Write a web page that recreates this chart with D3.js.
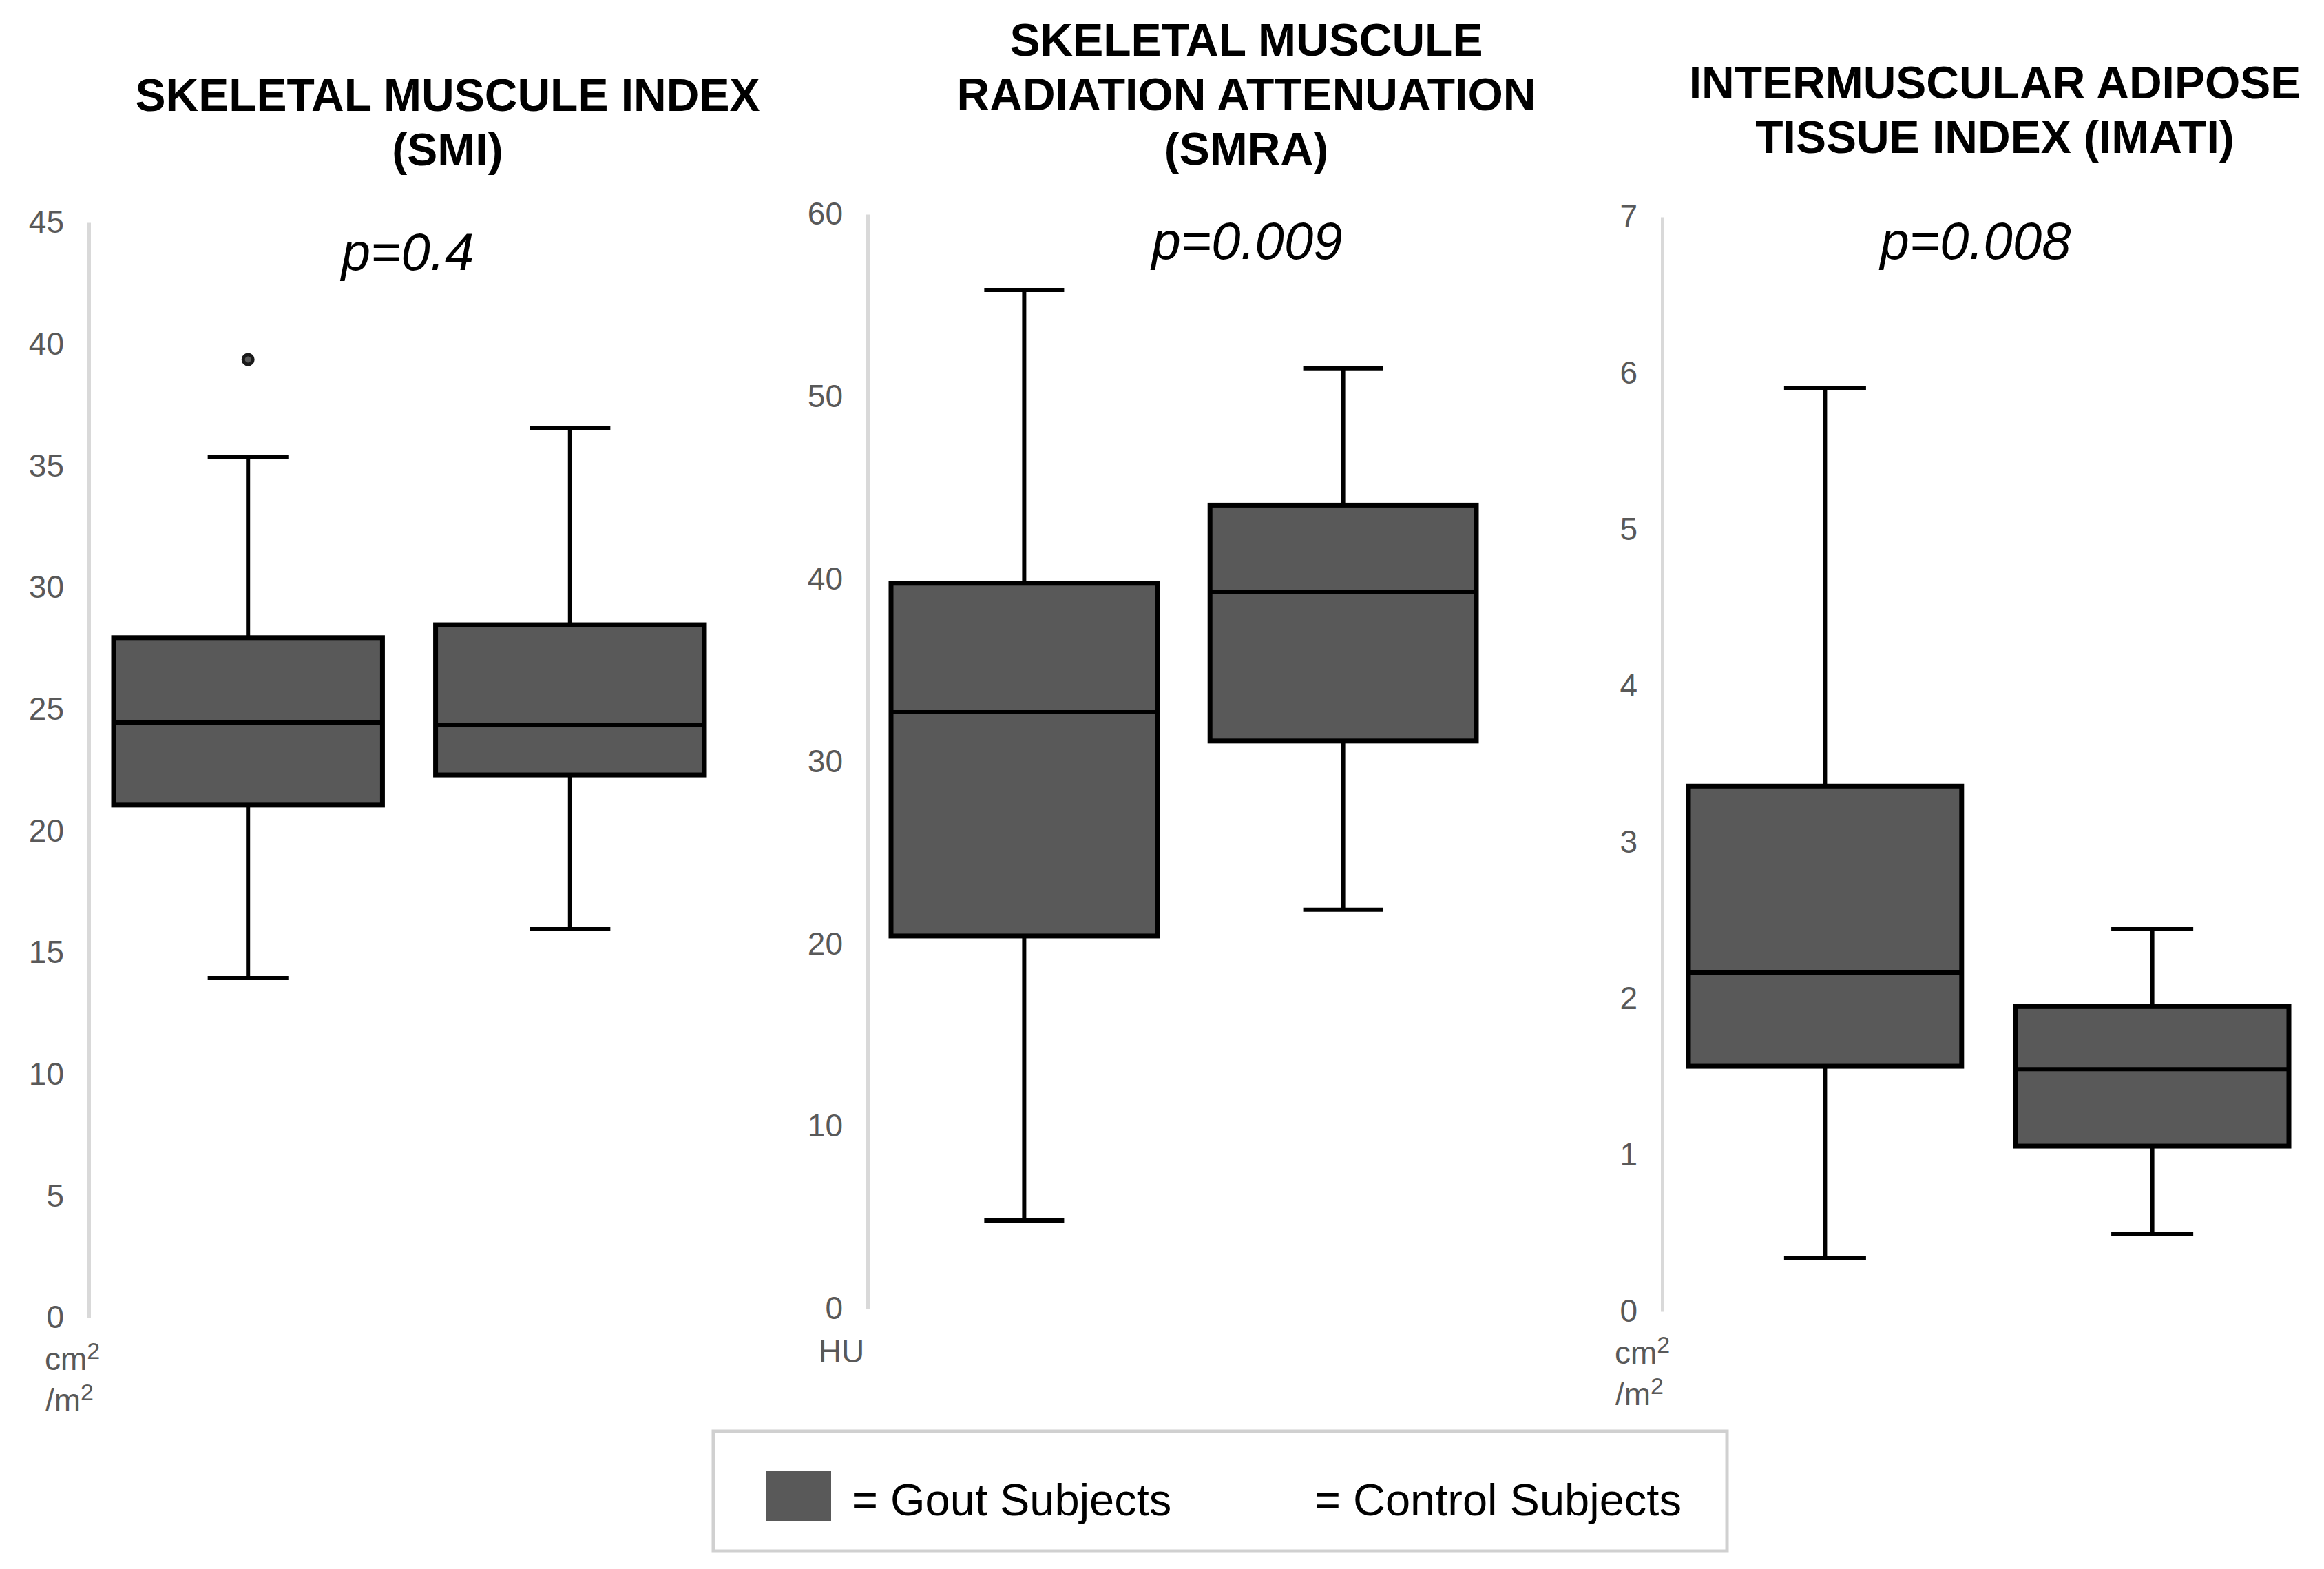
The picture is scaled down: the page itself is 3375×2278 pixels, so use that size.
<!DOCTYPE html>
<html>
<head>
<meta charset="utf-8">
<script src="https://cdn.jsdelivr.net/npm/d3@7"></script>
<style>
  body { margin: 0; background: #fff; }
  text { font-family: "Liberation Sans", Arial, sans-serif; }
</style>
</head>
<body>
<svg id="chart" width="3375" height="2278"></svg>
<script>
// groups shown in every panel
const groups = ["Gout Subjects", "Control Subjects"];

// five-number summaries per group: [min, q1, median, q3, max]
const smiValues   = [[13.95, 21.06, 24.45, 27.94, 35.38], [15.96, 22.30, 24.34, 28.47, 36.54]];
const smiOutliers = [[39.37], []];
const smraValues  = [[4.83, 20.43, 32.7, 39.77, 55.85], [21.87, 31.12, 39.31, 44.05, 51.55]];
const smraOutliers = [[], []];
const imatiValues = [[0.34, 1.568, 2.167, 3.36, 5.907], [0.493, 1.057, 1.55, 1.95, 2.445]];
const imatiOutliers = [[], []];

// axis ticks
const smiTicks   = [0, 5, 10, 15, 20, 25, 30, 35, 40, 45];
const smraTicks  = [0, 10, 20, 30, 40, 50, 60];
const imatiTicks = [0, 1, 2, 3, 4, 5, 6, 7];

// texts
const smiTitle   = ["SKELETAL MUSCULE INDEX", "(SMI)"];
const smraTitle  = ["SKELETAL MUSCULE", "RADIATION ATTENUATION", "(SMRA)"];
const imatiTitle = ["INTERMUSCULAR ADIPOSE", "TISSUE INDEX (IMATI)"];
const pLabels    = ["p=0.4", "p=0.009", "p=0.008"];

const svg = d3.select("svg#chart");
const boxFill = "#595959";

// layout of each panel
const panels = [
  { values: smiValues, outliers: smiOutliers, ticks: smiTicks, title: smiTitle, p: pLabels[0],
    axisX: 129, yTop: 323, yBottom: 1913, bandFrom: 36, bandTo: 894,
    titleX: 650, titleY: 161, pX: 592, pY: 392, unit: "cm2", unitX: 105 },
  { values: smraValues, outliers: smraOutliers, ticks: smraTicks, title: smraTitle, p: pLabels[1],
    axisX: 1260, yTop: 311, yBottom: 1900, bandFrom: 34, bandTo: 884,
    titleX: 1810, titleY: 81, pX: 1811, pY: 376, unit: "HU", unitX: 1222 },
  { values: imatiValues, outliers: imatiOutliers, ticks: imatiTicks, title: imatiTitle, p: pLabels[2],
    axisX: 2414, yTop: 315, yBottom: 1904, bandFrom: 38, bandTo: 910,
    titleX: 2897, titleY: 143, pX: 2869, pY: 376, unit: "cm2", unitX: 2385 }
];

panels.forEach(panel => {
  const g = svg.append("g");

  const y = d3.scaleLinear()
    .domain([0, d3.max(panel.ticks)])
    .range([panel.yBottom, panel.yTop]);

  const x = d3.scaleBand()
    .domain(groups)
    .range([panel.axisX + panel.bandFrom, panel.axisX + panel.bandTo])
    .paddingInner(0.165)
    .paddingOuter(0);

  // y axis: light grey line, no tick marks
  const axis = g.append("g")
    .attr("transform", `translate(${panel.axisX},0)`)
    .call(d3.axisLeft(y).tickValues(panel.ticks).tickFormat(d3.format("d")).tickSize(0).tickPadding(36));
  axis.select(".domain").attr("stroke", "#d9d9d9").attr("stroke-width", 5);
  axis.selectAll(".tick text")
    .attr("fill", "#595959")
    .style("font-size", "46px")
    .style("font-family", '"Liberation Sans", Arial, sans-serif');

  // unit label under the 0 tick
  if (panel.unit === "HU") {
    g.append("text").attr("x", panel.unitX).attr("y", panel.yBottom + 78)
      .attr("text-anchor", "middle").attr("fill", "#595959").style("font-size", "46px")
      .text("HU");
  } else {
    const t1 = g.append("text").attr("x", panel.unitX).attr("y", panel.yBottom + 76)
      .attr("text-anchor", "middle").attr("fill", "#595959").style("font-size", "46px");
    t1.append("tspan").text("cm");
    t1.append("tspan").attr("dy", -16).style("font-size", "34px").text("2");
    const t2 = g.append("text").attr("x", panel.unitX - 4).attr("y", panel.yBottom + 136)
      .attr("text-anchor", "middle").attr("fill", "#595959").style("font-size", "46px");
    t2.append("tspan").text("/m");
    t2.append("tspan").attr("dy", -16).style("font-size", "34px").text("2");
  }

  // title
  const title = g.append("text")
    .attr("x", panel.titleX).attr("y", panel.titleY)
    .attr("text-anchor", "middle")
    .attr("font-weight", "bold")
    .style("font-size", "66px");
  panel.title.forEach((line, i) => {
    title.append("tspan").attr("x", panel.titleX).attr("dy", i === 0 ? 0 : 79).text(line);
  });

  // p value
  g.append("text")
    .attr("x", panel.pX).attr("y", panel.pY)
    .attr("text-anchor", "middle")
    .attr("font-style", "italic")
    .style("font-size", "76px")
    .text(panel.p);

  // boxes
  groups.forEach((grp, i) => {
    const [lo, q1, med, q3, hi] = panel.values[i];
    const bx = x(grp), bw = x.bandwidth(), cx = bx + bw / 2, cap = bw * 0.3;
    const bg = g.append("g").attr("stroke", "#000");

    bg.append("line").attr("x1", cx).attr("x2", cx).attr("y1", y(hi)).attr("y2", y(q3)).attr("stroke-width", 6);
    bg.append("line").attr("x1", cx).attr("x2", cx).attr("y1", y(q1)).attr("y2", y(lo)).attr("stroke-width", 6);
    bg.append("line").attr("x1", cx - cap / 2).attr("x2", cx + cap / 2).attr("y1", y(hi)).attr("y2", y(hi)).attr("stroke-width", 6);
    bg.append("line").attr("x1", cx - cap / 2).attr("x2", cx + cap / 2).attr("y1", y(lo)).attr("y2", y(lo)).attr("stroke-width", 6);

    bg.append("rect")
      .attr("x", bx).attr("y", y(q3))
      .attr("width", bw).attr("height", y(q1) - y(q3))
      .attr("fill", boxFill).attr("stroke-width", 7);
    bg.append("line").attr("x1", bx).attr("x2", bx + bw).attr("y1", y(med)).attr("y2", y(med)).attr("stroke-width", 6);

    bg.selectAll("circle.out")
      .data(panel.outliers[i])
      .join("circle")
      .attr("class", "out")
      .attr("cx", cx).attr("cy", d => y(d)).attr("r", 7)
      .attr("fill", boxFill).attr("stroke", "#1a1a1a").attr("stroke-width", 5);
  });
});

// legend
const legend = svg.append("g");
legend.append("rect")
  .attr("x", 1036).attr("y", 2078).attr("width", 1472).attr("height", 174)
  .attr("fill", "none").attr("stroke", "#d0d0d0").attr("stroke-width", 5);
legend.append("rect")
  .attr("x", 1112).attr("y", 2136).attr("width", 95).attr("height", 72)
  .attr("fill", boxFill);
legend.append("text").attr("x", 1237).attr("y", 2200).style("font-size", "65px").text("= " + groups[0]);
legend.append("text").attr("x", 1909).attr("y", 2200).style("font-size", "65px").text("= " + groups[1]);
</script>
</body>
</html>
